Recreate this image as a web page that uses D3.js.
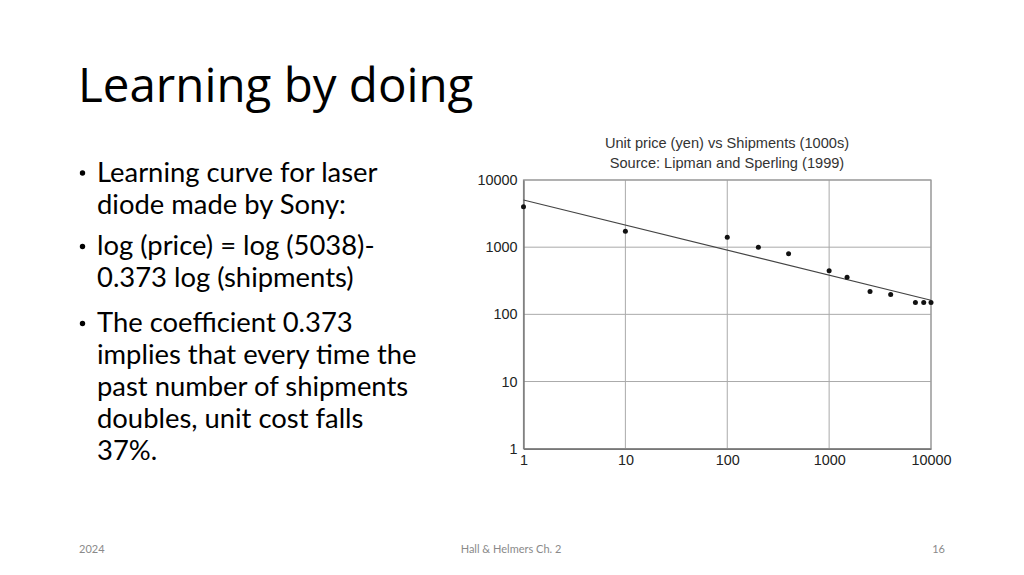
<!DOCTYPE html>
<html>
<head>
<meta charset="utf-8">
<script src="https://cdn.jsdelivr.net/npm/d3@7"></script>
<style>
  html, body { margin: 0; padding: 0; background: #fff; }
  svg { display: block; }
</style>
</head>
<body>
<svg id="slide" width="1024" height="575"></svg>
<script>
// ---- data ----
const shipments = [1, 10, 100, 202, 400, 1000, 1500, 2520, 4020, 7030, 8480, 10000];
const prices    = [4000, 1730, 1410, 1000, 800, 445, 358, 218, 197, 150, 150, 150];
const fitIntercept = 5038;
const fitSlope = -0.373;
const tickValues = [1, 10, 100, 1000, 10000];
const tickLabels = ["1", "10", "100", "1000", "10000"];
const chartTitle = ["Unit price (yen) vs Shipments (1000s)", "Source: Lipman and Sperling (1999)"];
const bullets = [
  ["Learning curve for laser", "diode made by Sony:"],
  ["log (price) = log (5038)-", "0.373 log (shipments)"],
  ["The coefficient 0.373", "implies that every time the", "past number of shipments", "doubles, unit cost falls", "37%."]
];
const footer = { left: "2024", center: "Hall & Helmers Ch. 2", right: "16" };

const svg = d3.select("#slide");

// ---- slide title ----
svg.append("text")
  .attr("x", 78).attr("y", 102)
  .attr("font-family", "'Open Sans', sans-serif")
  .attr("font-size", 47.5)
  .attr("fill", "#000")
  .text("Learning by doing");

// ---- bullets ----
const lineH = 32;
const bulletTops = [181.5, 255, 332];
const bodySize = 27.4;
bullets.forEach((lines, b) => {
  const y = bulletTops[b];
  svg.append("circle")
    .attr("cx", 82.5).attr("cy", y - 8.5)
    .attr("r", 2.7)
    .attr("fill", "#000");
  lines.forEach((ln, i) => {
    svg.append("text")
      .attr("x", 97).attr("y", y + i * lineH)
      .attr("font-family", "Lato, sans-serif")
      .attr("font-size", bodySize)
      .attr("fill", "#000")
      .text(ln);
  });
});

// ---- footer ----
const fStyle = sel => sel.attr("font-family", "Lato, sans-serif").attr("font-size", 11).attr("fill", "#8a8a8a");
svg.append("text").attr("x", 79).attr("y", 553).text(footer.left).call(fStyle);
svg.append("text").attr("x", 511).attr("y", 553).attr("text-anchor", "middle").text(footer.center).call(fStyle);
svg.append("text").attr("x", 945).attr("y", 553).attr("text-anchor", "end").text(footer.right).call(fStyle);

// ---- chart ----
const L = 523.5, R = 931, T = 180, B = 448.7;
const x = d3.scaleLog().domain([1, 10000]).range([L, R]);
const yS = d3.scaleLog().domain([1, 10000]).range([B, T]);

const g = svg.append("g");
const font = "'Liberation Sans', Arial, sans-serif";

// chart titles
chartTitle.forEach((t, i) => {
  g.append("text")
    .attr("x", 727).attr("y", 148 + i * 19.5)
    .attr("text-anchor", "middle")
    .attr("font-family", font).attr("font-size", 14.6)
    .attr("fill", "#333")
    .text(t);
});

// grid
g.selectAll(".vg").data(tickValues).enter().append("line")
  .attr("x1", d => x(d)).attr("x2", d => x(d))
  .attr("y1", T).attr("y2", B)
  .attr("stroke", "#aaa").attr("stroke-width", 1);
g.selectAll(".hg").data(tickValues).enter().append("line")
  .attr("x1", L).attr("x2", R)
  .attr("y1", d => yS(d)).attr("y2", d => yS(d))
  .attr("stroke", "#aaa").attr("stroke-width", 1);

// frame
g.append("rect").attr("x", L).attr("y", T).attr("width", R - L).attr("height", B - T)
  .attr("fill", "none").attr("stroke", "#999").attr("stroke-width", 1.2);

// axes (left & bottom darker)
const xAxis = d3.axisBottom(x).tickValues(tickValues).tickFormat((d, i) => tickLabels[i]).tickSize(0).tickPadding(6);
const yAxis = d3.axisLeft(yS).tickValues(tickValues).tickFormat((d, i) => tickLabels[i]).tickSize(0).tickPadding(6);
const gx = g.append("g").attr("transform", `translate(0,${B})`).call(xAxis);
const gy = g.append("g").attr("transform", `translate(${L},0)`).call(yAxis);
[gx, gy].forEach(a => {
  a.select(".domain").attr("stroke", "#777").attr("stroke-width", 1.4);
  a.selectAll("text").attr("font-family", font).attr("font-size", 14.4).attr("fill", "#222");
});

// fit line
const fit = d => fitIntercept * Math.pow(d, fitSlope);
g.append("line")
  .attr("x1", x(1)).attr("y1", yS(fit(1)))
  .attr("x2", x(10000)).attr("y2", yS(fit(10000)))
  .attr("stroke", "#444").attr("stroke-width", 1.2);

// points
g.selectAll(".pt").data(shipments).enter().append("circle")
  .attr("cx", d => x(d))
  .attr("cy", (d, i) => yS(prices[i]))
  .attr("r", 2.5)
  .attr("fill", "#111");
</script>
</body>
</html>
